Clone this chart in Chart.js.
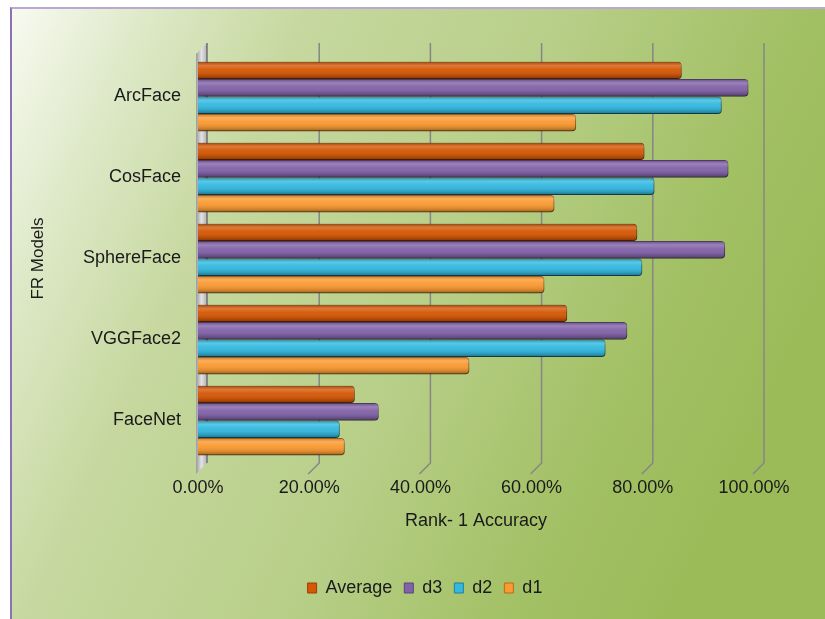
<!DOCTYPE html>
<html>
<head>
<meta charset="utf-8">
<script src="https://cdn.jsdelivr.net/npm/chart.js@4.4.1/dist/chart.umd.min.js"></script>
<style>
  html, body { margin: 0; padding: 0; background: #fff; }
  #wrap {
    position: relative; width: 825px; height: 619px; overflow: hidden;
  }
  #frame {
    position: absolute; left: 10px; top: 7px; width: 815px; height: 612px;
    border-left: 2px solid #8b72b5; border-top: 2px solid #b9a9d3;
    background: linear-gradient(115deg, #f8faf1 0%, #dde8c6 13%, #c6d89f 27%, #b8cf89 50%, #a2c064 72%, #9bbb59 86%, #9bbb59 100%);
  }
  canvas { position: absolute; left: 0; top: 0; }
</style>
</head>
<body>
<div id="wrap">
  <div id="frame"></div>
  <canvas id="c" width="825" height="619"></canvas>
</div>
<script>
// Daten (Rank-1 Accuracy, Prozent)
const models = ['ArcFace', 'CosFace', 'SphereFace', 'VGGFace2', 'FaceNet'];
const avgValues = [87.0, 80.3, 79.0, 66.4, 28.2];
const d3Values = [99.0, 95.4, 94.8, 77.2, 32.5];
const d2Values = [94.2, 82.1, 79.9, 73.3, 25.5];
const d1Values = [68.0, 64.1, 62.3, 48.8, 26.4];
const xTicks = [0, 20, 40, 60, 80, 100];

const FONT = '"Liberation Sans", Arial, sans-serif';

// 3D-Tiefe (Rückwand relativ zur Vorderkante)
const DX = 10, DY = 11;

// Rückwand-Gitter, linke Wand, Schatten und Zylinder-Look
const wallPlugin = {
  id: 'wall',
  afterLayout(chart) {
    // Legende wie im Original etwas nach rechts versetzt
    const lg = chart.legend;
    if (lg) { lg.left += 36; lg.right += 36; }
  },
  beforeDatasetsDraw(chart) {
    const { ctx, chartArea, scales } = chart;
    const xs = scales.x;
    const topBack = chartArea.top - 13;
    const botBack = chartArea.bottom + 2;
    ctx.save();

    // linke Wand
    const x0 = xs.getPixelForValue(0);
    const g = ctx.createLinearGradient(x0 - 3, 0, x0 + DX, 0);
    g.addColorStop(0, '#8e8e8e');
    g.addColorStop(0.5, '#e2e2e2');
    g.addColorStop(1, '#a8a8a8');
    ctx.fillStyle = g;
    ctx.beginPath();
    ctx.moveTo(x0 - 2, topBack + DY);
    ctx.lineTo(x0 - 1 + DX, topBack);
    ctx.lineTo(x0 - 1 + DX, botBack);
    ctx.lineTo(x0 - 2, botBack + DY);
    ctx.closePath();
    ctx.fill();
    ctx.strokeStyle = '#6f6f6f';
    ctx.lineWidth = 1.5;
    ctx.beginPath();
    ctx.moveTo(x0 - 1 + DX, topBack);
    ctx.lineTo(x0 - 1 + DX, botBack);
    ctx.stroke();

    // Gitterlinien auf der Rückwand + Bodenkante
    ctx.strokeStyle = '#868686';
    ctx.lineWidth = 1.5;
    xTicks.slice(1).forEach(v => {
      const x = xs.getPixelForValue(v) + DX;
      ctx.beginPath();
      ctx.moveTo(x, topBack);
      ctx.lineTo(x, botBack);
      ctx.lineTo(x - DX - 1, botBack + DY);
      ctx.stroke();
    });
    ctx.restore();
  },
  beforeDatasetDraw(chart) {
    const ctx = chart.ctx;
    ctx.save();
    ctx.shadowColor = 'rgba(0,0,0,0.35)';
    ctx.shadowBlur = 3;
    ctx.shadowOffsetX = 1;
    ctx.shadowOffsetY = 2;
  },
  afterDatasetDraw(chart) {
    chart.ctx.restore();
  },
  afterDatasetsDraw(chart) {
    const ctx = chart.ctx;
    ctx.save();
    chart.data.datasets.forEach((ds, i) => {
      const meta = chart.getDatasetMeta(i);
      meta.data.forEach(bar => {
        const { x, y, base, height } = bar.getProps(['x', 'y', 'base', 'height'], true);
        const top = y - height / 2;
        const grad = ctx.createLinearGradient(0, top, 0, top + height);
        grad.addColorStop(0, 'rgba(0,0,0,0.2)');
        grad.addColorStop(0.22, 'rgba(255,255,255,0.2)');
        grad.addColorStop(0.45, 'rgba(255,255,255,0.04)');
        grad.addColorStop(0.8, 'rgba(0,0,0,0.14)');
        grad.addColorStop(1, 'rgba(0,0,0,0.38)');
        ctx.fillStyle = grad;
        ctx.beginPath();
        const r = Math.min(4, height / 2);
        ctx.moveTo(base, top);
        ctx.lineTo(x - r, top);
        ctx.quadraticCurveTo(x, top, x, top + r);
        ctx.lineTo(x, top + height - r);
        ctx.quadraticCurveTo(x, top + height, x - r, top + height);
        ctx.lineTo(base, top + height);
        ctx.closePath();
        ctx.fill();
      });
    });
    ctx.restore();
  }
};

const barStyle = (fill, edge) => ({
  backgroundColor: fill,
  borderColor: edge,
  borderWidth: 1,
  borderSkipped: 'start',
  borderRadius: { topRight: 4, bottomRight: 4, topLeft: 0, bottomLeft: 0 },
  categoryPercentage: 0.86,
  barPercentage: 1.0
});

new Chart(document.getElementById('c'), {
  type: 'bar',
  data: {
    labels: models,
    datasets: [
      { label: 'Average', data: avgValues, ...barStyle('#d55806', '#9a3f03') },
      { label: 'd3', data: d3Values, ...barStyle('#8263a9', '#5b437a') },
      { label: 'd2', data: d2Values, ...barStyle('#33b9e0', '#1f7f9c') },
      { label: 'd1', data: d1Values, ...barStyle('#fa9a32', '#b86c1c') }
    ]
  },
  options: {
    indexAxis: 'y',
    responsive: false,
    animation: false,
    devicePixelRatio: 1,
    layout: { padding: { left: 24, right: 71, top: 56, bottom: 12 } },
    plugins: {
      legend: {
        position: 'bottom',
        labels: {
          boxWidth: 9,
          boxHeight: 10,
          padding: 12,
          color: '#1a1a1a',
          font: { family: FONT, size: 18 }
        }
      },
      tooltip: { enabled: false }
    },
    scales: {
      x: {
        min: 0,
        max: 100,
        afterBuildTicks: s => { s.ticks = xTicks.map(v => ({ value: v })); },
        afterFit: s => { s.height = 106; },
        grid: { display: false, drawTicks: false },
        border: { display: false },
        ticks: {
          padding: 16,
          color: '#1a1a1a',
          font: { family: FONT, size: 18 },
          callback: v => v.toFixed(2) + '%'
        },
        title: {
          display: true,
          text: 'Rank- 1 Accuracy',
          color: '#1a1a1a',
          font: { family: FONT, size: 18 },
          padding: { top: 0, bottom: 35 }
        }
      },
      y: {
        afterFit: s => { s.width = 174; },
        grid: { display: false, drawTicks: false },
        border: { display: false },
        ticks: {
          padding: 17,
          color: '#1a1a1a',
          font: { family: FONT, size: 18 }
        },
        title: {
          display: true,
          text: 'FR Models',
          color: '#1a1a1a',
          font: { family: FONT, size: 17 },
          padding: { top: 4, bottom: 0 }
        }
      }
    }
  },
  plugins: [wallPlugin]
});
</script>
</body>
</html>
